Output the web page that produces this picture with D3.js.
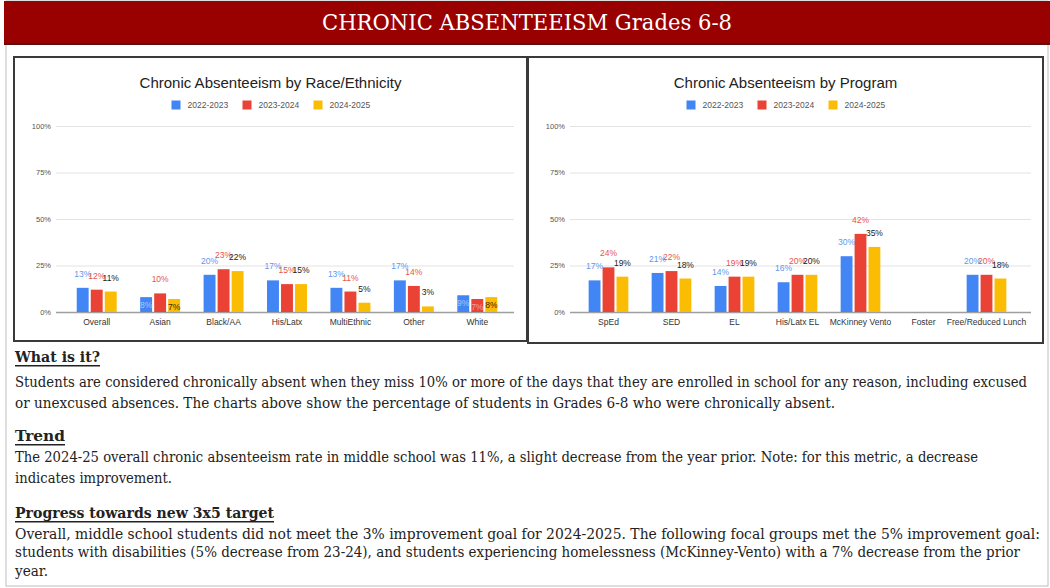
<!DOCTYPE html>
<html>
<head>
<meta charset="utf-8">
<script src="https://cdn.jsdelivr.net/npm/d3@7"></script>
<style>
  body { margin: 0; background: #fff; }
  svg { display: block; }
  .serif { font-family: "DejaVu Serif", "Liberation Serif", serif; font-stretch: condensed; fill: #222; }
  .sans { font-family: Arial, "Liberation Sans", sans-serif; }
</style>
</head>
<body>
<div id="page"></div>
<script>
// ---- data ----
const years = ["2022-2023", "2023-2024", "2024-2025"];
const yearColors = ["#4285f4", "#ea4335", "#fbbc04"];
const labelColors = ["#5f97f0", "#e8554a", "#222222"];
const insideLabelColors = ["#a9c6fa", "#f4a19a", "#3a2a00"];

const raceCategories = ["Overall", "Asian", "Black/AA", "His/Latx", "MultiEthnic", "Other", "White"];
const race2022 = [13, 8, 20, 17, 13, 17, 9];
const race2023 = [12, 10, 23, 15, 11, 14, 7];
const race2024 = [11, 7, 22, 15, 5, 3, 8];

const programCategories = ["SpEd", "SED", "EL", "His/Latx EL", "McKinney Vento", "Foster", "Free/Reduced Lunch"];
const program2022 = [17, 21, 14, 16, 30, null, 20];
const program2023 = [24, 22, 19, 20, 42, null, 20];
const program2024 = [19, 18, 19, 20, 35, null, 18];

const yTicks = [0, 25, 50, 75, 100];

const headerTitle = "CHRONIC ABSENTEEISM Grades 6-8";

const textBlocks = [
  {head: "What is it?", lines: [
    "Students are considered chronically absent when they miss 10% or more of the days that they are enrolled in school for any reason, including excused",
    "or unexcused absences. The charts above show the percentage of students in Grades 6-8 who were chronically absent."]},
  {head: "Trend", lines: [
    "The 2024-25 overall chronic absenteeism rate in middle school was 11%, a slight decrease from the year prior. Note: for this metric, a decrease",
    "indicates improvement."]},
  {head: "Progress towards new 3x5 target", lines: [
    "Overall, middle school students did not meet the 3% improvement goal for 2024-2025. The following focal groups met the 5% improvement goal:",
    "students with disabilities (5% decrease from 23-24), and students experiencing homelessness (McKinney-Vento) with a 7% decrease from the prior",
    "year."]}
];

// ---- page ----
const W = 1050, H = 588;
const svg = d3.select("#page").append("svg")
  .attr("width", W)
  .attr("height", H);

// page frame
svg.append("rect")
  .attr("x", 6).attr("y", 1)
  .attr("width", W - 8).attr("height", H - 3)
  .attr("fill", "none")
  .attr("stroke", "#bdbdbd");

// header band
svg.append("rect")
  .attr("x", 4).attr("y", 1)
  .attr("width", W - 4).attr("height", 43)
  .attr("fill", "#990000");
svg.append("line")
  .attr("x1", 4).attr("x2", W)
  .attr("y1", 44).attr("y2", 44)
  .attr("stroke", "#5c1010").attr("stroke-width", 2);
svg.append("text")
  .attr("class", "serif")
  .attr("x", 527).attr("y", 22)
  .attr("text-anchor", "middle")
  .attr("dominant-baseline", "central")
  .style("fill", "#fff")
  .style("font-size", "22px")
  .attr("textLength", 410)
  .attr("lengthAdjust", "spacingAndGlyphs")
  .text(headerTitle);

function drawChart(opts) {
  const g = svg.append("g");
  const series = opts.series;

  // box
  g.append("rect")
    .attr("x", opts.box[0]).attr("y", opts.box[1])
    .attr("width", opts.box[2] - opts.box[0]).attr("height", opts.box[3] - opts.box[1])
    .attr("fill", "#fff")
    .attr("stroke", "#3a3a3a")
    .attr("stroke-width", 2);

  const cx = (opts.box[0] + opts.box[2]) / 2;

  g.append("text")
    .attr("class", "sans")
    .attr("x", cx).attr("y", 82)
    .attr("text-anchor", "middle")
    .attr("dominant-baseline", "central")
    .style("font-size", "15px")
    .style("fill", "#222")
    .text(opts.title);

  // legend
  const legendStep = 71;
  const legend = g.append("g")
    .attr("transform", `translate(${cx - 99}, 105)`);
  years.forEach((yr, i) => {
    legend.append("rect")
      .attr("x", i * legendStep).attr("y", -4.5)
      .attr("width", 9).attr("height", 9)
      .attr("fill", yearColors[i]);
    legend.append("text")
      .attr("class", "sans")
      .attr("x", i * legendStep + 16).attr("y", 0)
      .attr("dominant-baseline", "central")
      .style("font-size", "8.5px")
      .style("fill", "#555")
      .text(yr);
  });

  const y = d3.scaleLinear().domain([0, 100]).range([312, 126]);
  const x = d3.scaleBand()
    .domain(opts.categories)
    .range(opts.range)
    .paddingInner(0.37)
    .paddingOuter(0.185);
  const xs = d3.scaleBand()
    .domain(years)
    .range([0, x.bandwidth()])
    .paddingInner(0.15);

  // gridlines + y labels
  const yAxis = d3.axisLeft(y)
    .tickValues(yTicks)
    .tickSize(-(opts.grid[1] - opts.grid[0]))
    .tickPadding(5)
    .tickFormat(d => d + "%");
  const ya = g.append("g")
    .attr("transform", `translate(${opts.grid[0]},0)`)
    .call(yAxis);
  ya.select(".domain").remove();
  ya.selectAll(".tick line")
    .attr("stroke", d => d === 0 ? "#9e9e9e" : "#e3e3e3")
    .attr("stroke-width", d => d === 0 ? 1.6 : 1);
  ya.selectAll(".tick text")
    .attr("class", "sans")
    .style("font-size", "7.5px")
    .style("fill", "#555");

  // x axis labels
  const xAxis = d3.axisBottom(x).tickSize(0).tickPadding(7);
  const xa = g.append("g")
    .attr("transform", "translate(0,312)")
    .call(xAxis);
  xa.select(".domain").remove();
  xa.selectAll(".tick text")
    .attr("class", "sans")
    .style("font-size", "8.5px")
    .style("fill", "#333");

  // bars
  series.forEach((vals, s) => {
    g.append("g").selectAll("rect")
      .data(opts.categories.map((c, i) => ({c, v: vals[i]})).filter(d => d.v != null))
      .join("rect")
      .attr("x", d => x(d.c) + xs(years[s]))
      .attr("y", d => y(d.v))
      .attr("width", xs.bandwidth())
      .attr("height", d => y(0) - y(d.v))
      .attr("fill", yearColors[s]);
  });

  // value labels (short bars that still fit the text carry it inside)
  const inside = v => v >= 6 && v < 10;
  series.forEach((vals, s) => {
    g.append("g").selectAll("text")
      .data(opts.categories.map((c, i) => ({c, v: vals[i]})).filter(d => d.v != null))
      .join("text")
      .attr("class", "sans")
      .attr("x", d => x(d.c) + xs(years[s]) + xs.bandwidth() / 2)
      .attr("y", d => inside(d.v) ? y(d.v) + 8 : y(d.v) - 14)
      .attr("text-anchor", "middle")
      .attr("dominant-baseline", "central")
      .style("font-size", "8.5px")
      .style("fill", d => inside(d.v) ? insideLabelColors[s] : labelColors[s])
      .text(d => d.v + "%");
  });
}

drawChart({
  title: "Chronic Absenteeism by Race/Ethnicity",
  categories: raceCategories,
  series: [race2022, race2023, race2024],
  box: [14, 57, 527, 341],
  grid: [56, 514],
  range: [65, 509]
});

drawChart({
  title: "Chronic Absenteeism by Program",
  categories: programCategories,
  series: [program2022, program2023, program2024],
  box: [528, 57, 1043, 343],
  grid: [570, 1031],
  range: [577, 1018]
});

// ---- text section ----
const headY = [357, 436, 513];
const lineYs = [[382, 403], [457, 478], [534, 552, 571]];
const headW = [85, 50, 259];
const lineW = [[1012, 820], [963, 157], [1025, 1005, 33]];

textBlocks.forEach((b, i) => {
  svg.append("text")
    .attr("class", "serif")
    .attr("x", 15).attr("y", headY[i])
    .attr("dominant-baseline", "central")
    .style("font-size", "15px")
    .style("font-weight", "bold")
    .style("text-decoration", "underline")
    .attr("textLength", headW[i])
    .attr("lengthAdjust", "spacingAndGlyphs")
    .text(b.head);
  b.lines.forEach((ln, j) => {
    svg.append("text")
      .attr("class", "serif")
      .attr("x", 15).attr("y", lineYs[i][j])
      .attr("dominant-baseline", "central")
      .style("font-size", "14px")
      .attr("textLength", lineW[i][j])
      .attr("lengthAdjust", "spacingAndGlyphs")
      .text(ln);
  });
});
</script>
</body>
</html>
